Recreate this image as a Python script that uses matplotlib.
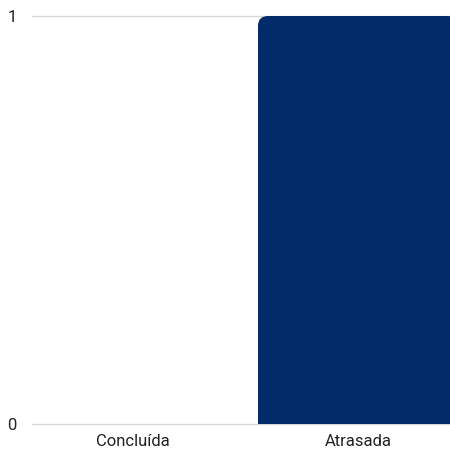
import matplotlib
matplotlib.use('Agg')
import matplotlib.pyplot as plt
from matplotlib.patches import FancyBboxPatch

plt.rcParams['font.family'] = ['Roboto', 'DejaVu Sans']

categorias = ['Concluída', 'Atrasada']
valores = [0, 1]
cor_barra = '#032B69'

W, H = 450, 450
fig = plt.figure(figsize=(W / 100, H / 100), dpi=100)
# area do grafico em pixels (esq, baixo, largura, altura)
ax = fig.add_axes([32 / W, 26 / H, (W - 32) / W, 408 / H])

x = list(range(len(categorias)))
px_por_cat = 225
ax.set_xlim(-101 / px_por_cat, 1 + 92 / px_por_cat)
ax.set_ylim(0, 1)

largura = 200 / px_por_cat
barras = ax.bar(x, valores, width=largura, color=cor_barra, zorder=2)

# cantos arredondados so em cima (a parte de baixo fica cortada pelo eixo)
raio_px = 10
rx = raio_px / px_por_cat
ry = raio_px / 408
for b in barras:
    if b.get_height() <= 0:
        continue
    x0, w, h = b.get_x(), b.get_width(), b.get_height()
    b.set_visible(False)
    p = FancyBboxPatch((x0, -ry * 2), w, h + ry * 2,
                       boxstyle='round,pad=0,rounding_size=%f' % rx,
                       mutation_aspect=ry / rx,
                       fc=cor_barra, ec='none', zorder=2)
    ax.add_patch(p)

ax.set_yticks([0, 1])
ax.set_yticklabels(['0', '1'])
ax.set_xticks(x)
ax.set_xticklabels(categorias)
ax.grid(axis='y', color='#d6d6d6', linewidth=0.9, zorder=0)
for g in ax.get_ygridlines():
    g.set_clip_on(False)
for s in ax.spines.values():
    s.set_visible(False)
ax.tick_params(axis='both', length=0, labelsize=12, colors='#222222')
ax.tick_params(axis='y', pad=11)
ax.tick_params(axis='x', pad=7)

fig.savefig('out.png', dpi=100)
